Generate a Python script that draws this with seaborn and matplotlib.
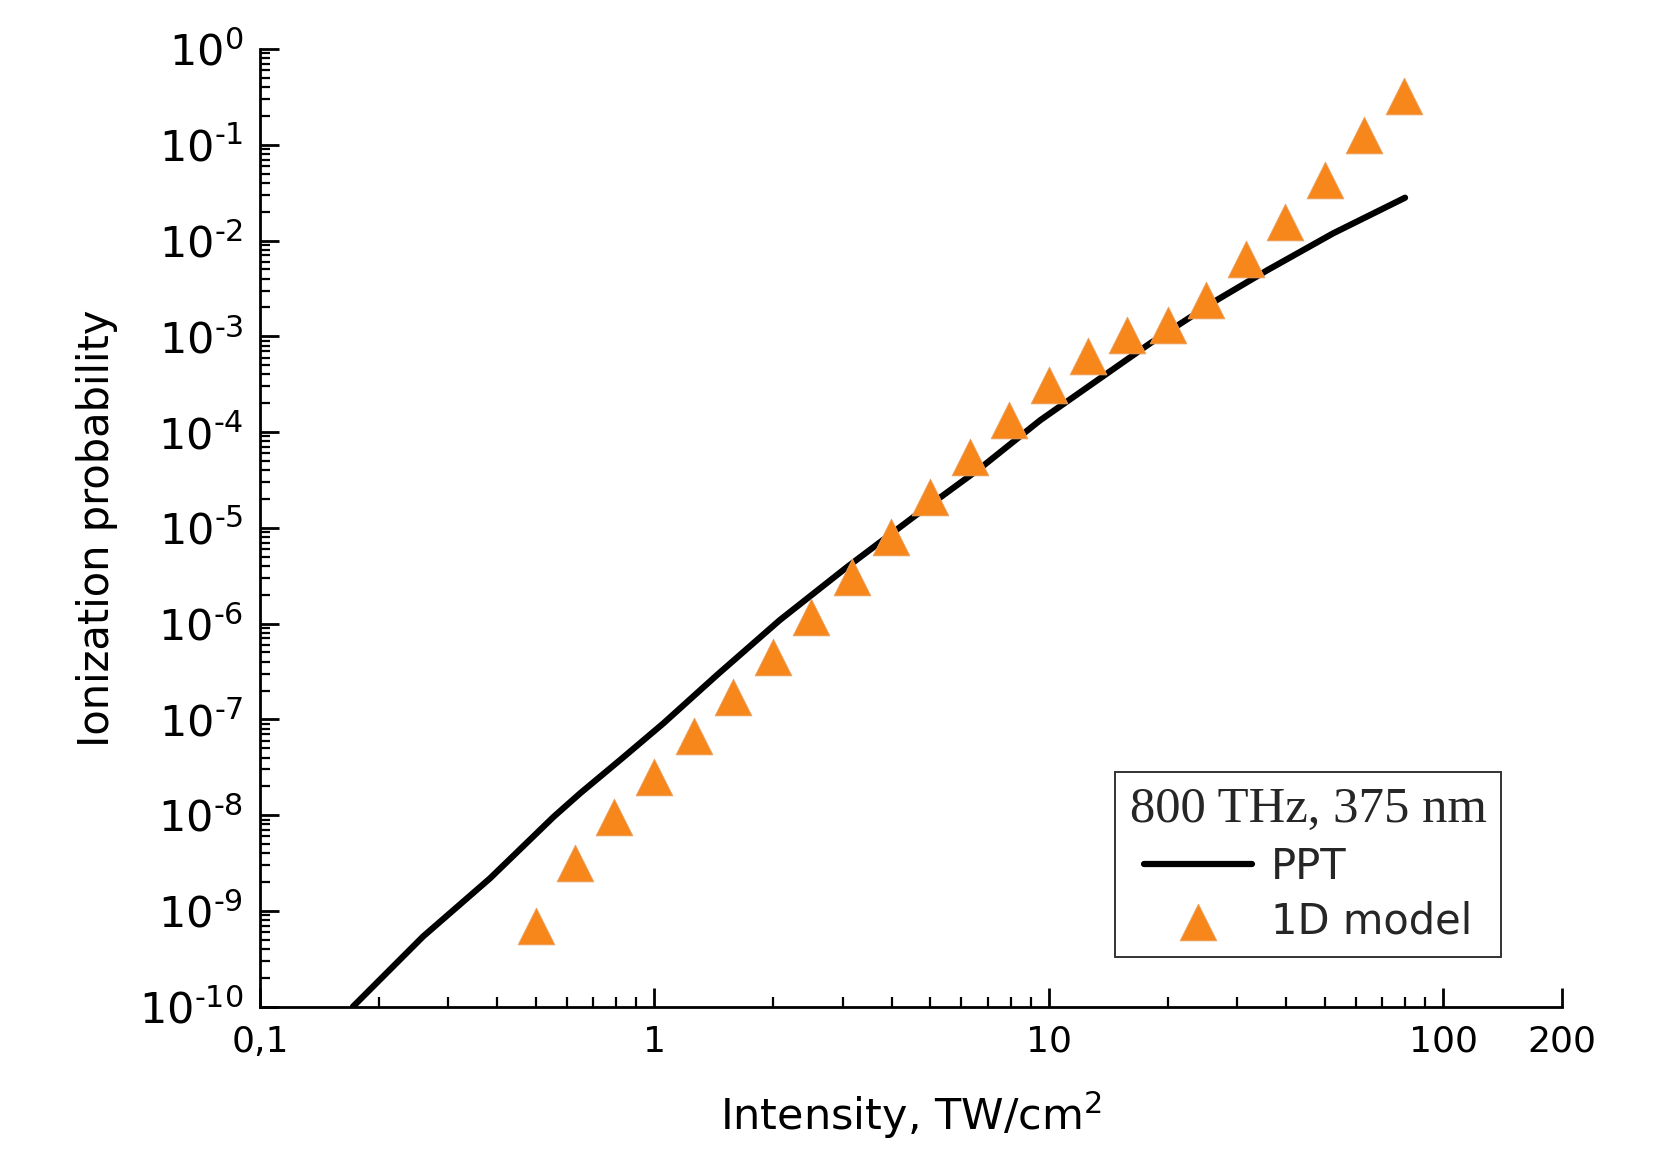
import matplotlib
matplotlib.use("Agg")
import matplotlib.pyplot as plt
import matplotlib.ticker as mticker
import seaborn as sns
import pandas as pd
import math

# ---- data ----
ppt_x = [0.172, 0.259, 0.383, 0.555, 0.648, 0.818, 1.054, 1.44, 2.08, 3.08,
         4.54, 6.70, 9.51, 18.1, 26.7, 35.8, 52.6, 80.0]
ppt_y = [1e-10, 5.4e-10, 2.19e-9, 9.6e-9, 1.69e-8, 3.76e-8, 9.1e-8, 2.9e-7,
         1.09e-6, 3.9e-6, 1.3e-5, 4.2e-5, 1.33e-4, 8.5e-4, 2.4e-3, 4.9e-3,
         1.19e-2, 2.8e-2]

model_x = [0.5, 0.63, 0.79, 1.0, 1.26, 1.58, 2.0, 2.5, 3.16, 3.98, 5.0, 6.3,
           7.94, 10.0, 12.6, 15.8, 20.0, 25.1, 31.6, 39.8, 50.1, 63.1, 79.4]
model_y = [7.0e-10, 3.2e-9, 9.5e-9, 2.5e-8, 6.7e-8, 1.73e-7, 4.5e-7, 1.17e-6,
           3.07e-6, 8.0e-6, 2.1e-5, 5.5e-5, 1.35e-4, 3.1e-4, 6.3e-4, 1.02e-3,
           1.31e-3, 2.4e-3, 6.45e-3, 1.58e-2, 4.27e-2, 0.125, 0.32]

x_major = [0.1, 1, 10, 100, 200]
x_major_labels = ["0,1", "1", "10", "100", "200"]

legend_title = "800 THz, 375 nm"
ppt_label = "PPT"
model_label = "1D model"
xlabel = "Intensity, TW/cm$^2$"
ylabel = "Ionization probability"

ppt_df = pd.DataFrame({"x": ppt_x, "y": ppt_y})
model_df = pd.DataFrame({"x": model_x, "y": model_y})

# ---- style ----
sns.set_theme(style="white")
plt.rcParams["font.family"] = ["DejaVu Sans"]
plt.rcParams["mathtext.default"] = "regular"

W, H = 1658, 1153
fig = plt.figure(figsize=(W / 100, H / 100), dpi=100)
fig.patch.set_facecolor("white")
ax = fig.add_axes([260 / W, 1 - 1006.7 / H, (1562 - 260) / W, (1006.7 - 49) / H])
ax.set_facecolor("white")

sns.lineplot(data=ppt_df, x="x", y="y", ax=ax, color="black", lw=4.5,
             label=ppt_label, sort=True)
sns.scatterplot(data=model_df, x="x", y="y", ax=ax, marker="^", s=700,
                color="#F7861B", edgecolor="#E9A46A", linewidth=0.6,
                label=model_label, zorder=3)

ax.set_xscale("log")
ax.set_yscale("log")
ax.set_xlim(0.1, 200)
ax.set_ylim(1e-10, 1)

# x ticks
ax.xaxis.set_major_locator(mticker.FixedLocator(x_major))
ax.xaxis.set_major_formatter(mticker.FixedFormatter(x_major_labels))
minor_x = [m * d for d in (0.1, 1, 10) for m in range(2, 10)]
ax.xaxis.set_minor_locator(mticker.FixedLocator(minor_x))
ax.xaxis.set_minor_formatter(mticker.NullFormatter())


# y ticks
def yfmt(v, pos):
    e = int(round(math.log10(v)))
    s = str(e).replace("-", "\u2010")
    return "$10^{" + s + "}$"


ax.yaxis.set_major_locator(mticker.LogLocator(base=10, numticks=20))
ax.yaxis.set_major_formatter(mticker.FuncFormatter(yfmt))
ax.yaxis.set_minor_locator(mticker.LogLocator(base=10, subs=range(2, 10), numticks=20))
ax.yaxis.set_minor_formatter(mticker.NullFormatter())

ax.tick_params(axis="both", which="both", bottom=True, left=True,
               top=False, right=False)
ax.tick_params(axis="both", which="major", direction="in", length=14, width=2,
               color="black", labelcolor="black")
ax.tick_params(axis="both", which="minor", direction="in", length=7.5, width=1.6,
               color="black")
ax.tick_params(axis="x", which="major", labelsize=26, pad=13)
ax.tick_params(axis="y", which="major", labelsize=31, pad=12)

for side in ("top", "right"):
    ax.spines[side].set_visible(False)
for side in ("left", "bottom"):
    ax.spines[side].set_color("black")
    ax.spines[side].set_linewidth(2)

ax.set_xlabel(xlabel, fontsize=31, color="black")
ax.set_ylabel(ylabel, fontsize=30, color="black")
ax.xaxis.set_label_coords(0.5, -0.086)
ax.yaxis.set_label_coords(-0.109, 0.5)

leg = ax.legend(title=legend_title, loc="upper left",
                bbox_to_anchor=(1115 / W, 1 - 772 / H),
                bbox_transform=fig.transFigure,
                fontsize=30, title_fontsize=36.5, frameon=True, fancybox=False,
                framealpha=1, edgecolor="#333333", handlelength=2.6,
                handletextpad=0.45, labelspacing=0.3, borderpad=0.35,
                borderaxespad=0)
leg.get_frame().set_linewidth(1.4)
leg.get_title().set_fontfamily(["Liberation Serif", "DejaVu Serif"])

fig.savefig("out.png", dpi=100, facecolor="white")
